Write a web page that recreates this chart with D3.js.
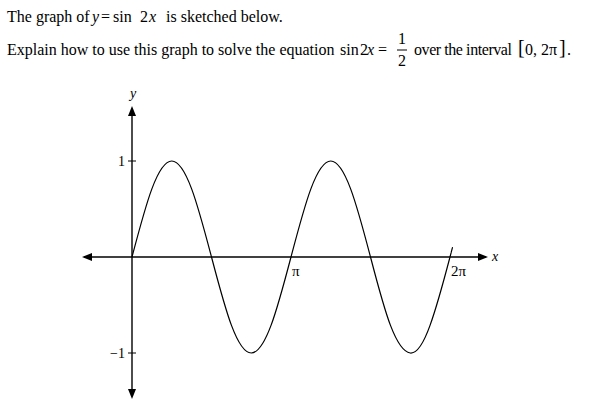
<!DOCTYPE html>
<html>
<head>
<meta charset="utf-8">
<script src="https://cdn.jsdelivr.net/npm/d3@7"></script>
<style>
  html, body { margin: 0; padding: 0; background: #fff; }
  svg { display: block; font-family: "Liberation Serif", "Times New Roman", serif; }
</style>
</head>
<body>
<script>
// ---- data ----
// curve points: x in units of π, y value of the sketched curve
const curveXPi = [0, 0.125, 0.25, 0.375, 0.5, 0.625, 0.75, 0.875, 1, 1.125, 1.25, 1.375, 1.5, 1.625, 1.75, 1.875, 2, 2.007];
const curveY   = [0, 0.71, 1, 0.71, 0, -0.71, -1, -0.71, 0, 0.71, 1, 0.71, 0, -0.71, -1, -0.71, 0, 0.045];
const xTickPi    = [1, 2];
const xTickLabel = ["π", "2π"];
const yTickValue = [1, -1];
const yTickLabel = ["1", "−1"];

const W = 591, H = 402;
const svg = d3.select("body").append("svg").attr("width", W).attr("height", H);

// ---- question text ----
const fs = 16;
const t1 = svg.append("text").attr("y", 22).attr("font-size", fs).attr("fill", "#000");
t1.append("tspan").attr("x", 7).text("The graph of");
t1.append("tspan").attr("x", 92).attr("font-style", "italic").text("y");
t1.append("tspan").attr("x", 101).text("=");
t1.append("tspan").attr("x", 113).text("sin");
t1.append("tspan").attr("x", 140).text("2");
t1.append("tspan").attr("x", 149).attr("font-style", "italic").text("x");
t1.append("tspan").attr("x", 166).text("is sketched below.");

const t2 = svg.append("text").attr("y", 55).attr("font-size", fs).attr("fill", "#000");
t2.append("tspan").attr("x", 7).text("Explain how to use this graph to solve the equation");
t2.append("tspan").attr("x", 340).text("sin");
t2.append("tspan").attr("x", 360).text("2");
t2.append("tspan").attr("x", 367).attr("font-style", "italic").text("x");
t2.append("tspan").attr("x", 378).text("=");
t2.append("tspan").attr("x", 414).attr("textLength", 98).attr("lengthAdjust", "spacing").text("over the interval");
t2.append("tspan").attr("x", 518).attr("dy", -1).attr("font-size", 20).text("[");
t2.append("tspan").attr("x", 525).attr("dy", 1).text("0, 2π");
t2.append("tspan").attr("x", 559).attr("dy", -1).attr("font-size", 20).text("]");
t2.append("tspan").attr("x", 567).attr("dy", 1).text(".");

// fraction 1/2
svg.append("text").attr("x", 402).attr("y", 44).attr("font-size", fs).attr("text-anchor", "middle").text("1");
svg.append("line").attr("x1", 397).attr("x2", 407).attr("y1", 50).attr("y2", 50).attr("stroke", "#000").attr("stroke-width", 1);
svg.append("text").attr("x", 402).attr("y", 66).attr("font-size", fs).attr("text-anchor", "middle").text("2");

// ---- chart ----
const x = d3.scaleLinear().domain([0, 2 * Math.PI]).range([132, 450]);
const y = d3.scaleLinear().domain([-1, 1]).range([353, 161]);
const x0 = x(0), y0 = y(0);

const axisStroke = 1.4;
// x axis
svg.append("line").attr("x1", 84).attr("x2", 486).attr("y1", y0).attr("y2", y0)
  .attr("stroke", "#000").attr("stroke-width", axisStroke);
// y axis
svg.append("line").attr("x1", x0).attr("x2", x0).attr("y1", 109).attr("y2", 396)
  .attr("stroke", "#000").attr("stroke-width", axisStroke);

// arrowheads
const ah = 10, aw = 4;
const arrows = [
  [[488, y0], [488 - ah, y0 - aw], [488 - ah, y0 + aw]],
  [[82, y0], [82 + ah, y0 - aw], [82 + ah, y0 + aw]],
  [[x0, 106], [x0 - aw, 106 + ah], [x0 + aw, 106 + ah]],
  [[x0, 399], [x0 - aw, 399 - ah], [x0 + aw, 399 - ah]]
];
svg.selectAll("path.arrow").data(arrows).enter().append("path")
  .attr("class", "arrow")
  .attr("d", d => "M" + d.map(p => p.join(",")).join("L") + "Z")
  .attr("fill", "#000");

// axis labels
svg.append("text").attr("x", 133).attr("y", 98).attr("font-size", 14).attr("font-style", "italic")
  .attr("text-anchor", "middle").text("y");
svg.append("text").attr("x", 492).attr("y", 261).attr("font-size", 14).attr("font-style", "italic").text("x");

// y ticks
yTickValue.forEach((v, i) => {
  svg.append("line").attr("x1", x0 - 4).attr("x2", x0 + 4).attr("y1", y(v)).attr("y2", y(v))
    .attr("stroke", "#000").attr("stroke-width", 1);
  svg.append("text").attr("x", x0 - 7).attr("y", y(v) + 5).attr("font-size", 14)
    .attr("text-anchor", "end").text(yTickLabel[i]);
});

// x tick labels
xTickPi.forEach((v, i) => {
  svg.append("text").attr("x", x(v * Math.PI) + 1).attr("y", 276).attr("font-size", 15)
    .text(xTickLabel[i]);
});

// curve
const pts = curveXPi.map((v, i) => [v * Math.PI, curveY[i]]);
const line = d3.line().x(d => x(d[0])).y(d => y(d[1])).curve(d3.curveNatural);
svg.append("path").datum(pts).attr("d", line)
  .attr("fill", "none").attr("stroke", "#000").attr("stroke-width", 1.2);
</script>
</body>
</html>
